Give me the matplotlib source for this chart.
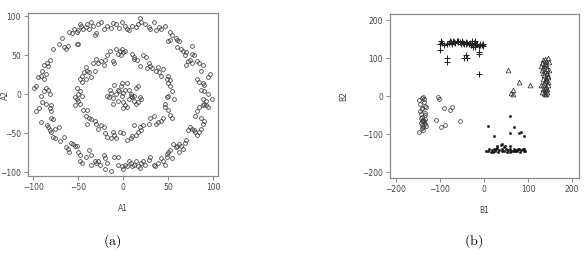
"""Two scatter panels: concentric rings (a) and four clusters (b)"""
import matplotlib
matplotlib.use("Agg")
import matplotlib.pyplot as plt

# ---- panel (a): rings ----
outer_x = [-2, -5, -8, -12, -14, -18, -22, -25, -28, -30, -32, -34, -36, -38, -40, -42, -45, -47, -48, -50,
           -52, -55, -57, -60, -62, -64, -66, -68, -72, -78, -82, -85, -84, -88, -90, -92, -86, -88, -95, -97,
           -99, -92, -88, -84, -86, -82, -90, -86, -94, -97, -80, -82, -80, -52, -50,
           -92, -85, -84, -80, -78, -82, -80, -76, -72, -78, -76, -70, -66, -64, -62, -60, -58, -56, -54, -52,
           -50, -48, -48, -46, -42, -38, -36, -36, -32, -30, -28, -26, -22, -20, -18, -20, -14, -10, -6, -6,
           -2, -1, 2, 4, 6,
           8, 10, 12, 14, 16, 18, 20, 22, 24, 28, 30, 34, 35, 38, 42, 44, 46, 48, 48, 50,
           52, 54, 55, 58, 60, 62, 64, 66, 62, 68, 70, 72, 74, 76, 78, 80, 82, 84, 86, 88,
           90, 86, 80, 82, 84, 88, 90, 92, 94, 98, 92, 88,
           94, 90, 86, 88, 90, 84, 82, 94, 96, 86, 88, 84, 82, 76, 74, 72, 70, 78, 76, 70,
           68, 66, 64, 60, 76, 62, 60, 58, 54, 52, 50, 52, 46, 42, 40, 36, 34, 30, 28, 24,
           20, 18, 16, 14, 10, 6, 4, 2]
outer_y = [92, 85, 90, 91, 85, 88, 84, 92, 90, 78, 76, 88, 92, 84, 90, 86, 84, 87, 90, 82,
           80, 83, 78, 80, 62, 58, 60, 72, 65, 58, 44, 40, 36, 38, 30, 24, 26, 20, 22, 10,
           8, -2, 4, 6, 8, 0, -10, -12, -18, -22, -14, -18, -22, 65, 64,
           -35, -40, -42, -30, -32, -46, -48, -44, -42, -55, -56, -60, -55, -68, -70, -74, -62, -64, -66, -66,
           -74, -78, -86, -88, -80, -72, -78, -90, -86, -88, -85, -90, -78, -82, -88, -96, -98, -80, -80, -90,
           -92, -96, -90, -92, -86,
           -88, -92, -90, -86, -92, -94, -88, -86, -90, -84, -80, -90, -92, -88, -82, -86, -90, -76, -80, -74,
           -72, -82, -64, -68, -66, -64, -66, -70, -74, -62, -58, -46, -42, -44, -46, -48, -52, -48, -44, -38,
           -34, -30, -28, -22, -16, -14, -12, -14, -16, -6, -8, -6,
           0, 4, 6, 14, 12, 16, 20, 22, 26, 30, 38, 40, 42, 40, 44, 42, 38, 50, 52, 54,
           50, 56, 58, 60, 62, 68, 70, 72, 76, 70, 68, 80, 88, 84, 86, 82, 92, 84, 86, 90,
           92, 98, 90, 86, 88, 82, 84, 88]

middle_x = [-30, -28, -25, -22, -20, -18, -15, -12, -10, -8, -6, -4, -2, 0, 2, -3, 10, 12, 12, 15,
            18, 22, 25, 28, 30, 26, 32, 36, 38, 40, 42, 44, 48, 50, 52, 50, 52, 54, 56, 50,
            48, 46, 46, 50, 52, 54, 44, 42, 38, 36, 34, 30, 28, 22, 20, 18, 16, 14, 12, 10,
            8, 4, 0, -4, -8, -10, -12, -14, -18, -20, -22, -25, -28, -30, -32, -36, -38, -40, -42, -40,
            -45, -48, -50, -52, -54, -54, -50, -48, -52, -46, -46, -48, -46, -44, -40, -42, -38, -36, -34, -32,
            -42]
middle_y = [45, 40, 42, 38, 44, 50, 55, 42, 40, 58, 52, 56, 58, 54, 55, 50, 52, 48, 45, 44,
            36, 50, 48, 40, 36, 34, 34, 30, 35, 28, 24, 32, 20, 24, 18, 14, 10, 4, -6, -2,
            -4, -12, -16, -20, -26, -30, -30, -34, -35, -38, -28, -30, -38, -40, -46, -42, -48, -52, -40, -54,
            -56, -58, -50, -48, -56, -52, -48, -56, -55, -50, -42, -40, -45, -38, -34, -32, -30, -38, -28, -20,
            -20, -12, -8, -6, -14, -4, 0, 4, 8, -2, 16, 20, 24, 28, 30, 35, 28, 22, 40, 30,
            20]

inner_x = [-18, -16, -15, -12, -10, -8, -6, -5, -3, -2, 0, -1, 2, 4, 2, 4, 6, 8, 10, 12,
           14, 16, 18, 20, 16, 14, 6, -2, -12, -14, 0, 8, 12, -6]
inner_y = [-2, -4, 6, -5, 12, 0, -8, 4, 10, -2, 2, -10, -14, -16, 6, 14, 6, 0, -4, -2,
           8, 10, -4, -6, -10, -12, -6, 14, -12, 2, -18, -2, -8, 6]

# ---- panel (b): four groups ----
plus_x = [-100, -98, -95, -90, -85, -80, -78, -75, -72, -70, -68, -65, -62, -60, -58, -55, -52, -50, -48, -45,
          -42, -40, -38, -35, -32, -30, -28, -25, -22, -20, -18, -15, -12, -10, -8, -5, -3, -2,
          -100, -85, -85, -42, -45, -38, -12, -12, -12, -20, -28]
plus_y = [138, 145, 140, 135, 137, 140, 144, 142, 138, 145, 143, 140, 146, 142, 144, 141, 138, 145, 140, 136,
          142, 138, 140, 137, 139, 134, 136, 130, 140, 145, 138, 136, 132, 134, 137, 135, 138, 133,
          120, 100, 90, 108, 100, 100, 110, 116, 58, 128, 146]

tri_x = [130, 132, 135, 138, 140, 142, 145, 148, 131, 134, 137, 141, 144, 147, 133, 136, 139, 143, 146, 135,
         138, 140, 142, 145, 130, 134, 137, 140, 143, 146, 132, 136, 140, 144, 138, 141, 135, 139, 143, 146,
         55, 80, 105, 65, 62, 66]
tri_y = [80, 88, 95, 98, 92, 85, 100, 90, 70, 75, 82, 78, 72, 68, 60, 55, 65, 58, 50, 45,
         40, 48, 42, 38, 30, 28, 35, 25, 20, 30, 12, 8, 15, 10, 5, 6, 18, 22, 62, 52,
         68, 38, 30, 15, 8, 6]

circ_x = [-148, -145, -142, -140, -138, -136, -134, -132, -146, -143, -141, -139, -137, -135, -133, -144, -140, -138, -136, -142,
          -139, -134, -131, -147, -141, -137, -135, -143, -138, -140,
          -105, -103, -92, -78, -72, -110, -97, -88, -55]
circ_y = [-10, -20, -5, -30, -2, -8, -25, -28, -40, -48, -55, -62, -68, -45, -60, -70, -75, -80, -65, -85,
          -90, -72, -78, -93, -35, -15, -50, -58, -62, -66,
          -2, -8, -32, -37, -28, -62, -82, -76, -65]

dot_x = [5, 8, 12, 15, 18, 20, 22, 25, 28, 30, 32, 35, 38, 40, 42, 45, 48, 50, 52, 55,
         58, 60, 62, 65, 68, 70, 72, 75, 78, 80, 82, 85, 88, 90, 92, 94, 30, 40, 45, 60,
         10, 22, 60, 68, 58, 85, 92, 80]
dot_y = [-143, -145, -140, -146, -142, -148, -138, -144, -140, -130, -147, -142, -128, -145, -138, -143, -132, -140, -146, -141,
         -138, -148, -143, -145, -140, -144, -141, -143, -139, -140, -146, -142, -138, -145, -140, -144, -136, -126, -134, -130,
         -78, -106, -52, -82, -98, -95, -105, -98]

TXT = "#444444"
FRAME = "#8a8a8a"

plt.rcParams["mathtext.fontset"] = "cm"
fig = plt.figure(figsize=(5.88, 2.56), dpi=100)


def style(ax, xt, yt):
    for s in ax.spines.values():
        s.set_color(FRAME)
        s.set_linewidth(0.9)
    ax.set_xticks(xt)
    ax.set_yticks(yt)
    ax.tick_params(length=3, width=0.7, color=FRAME, labelsize=5.5, labelcolor=TXT, pad=2)


# panel (a)
ax1 = fig.add_axes([0.0476, 0.3125, 0.323, 0.637])
mk = dict(ls="none", marker="o", ms=2.7, mfc="none", mec="#3a3a3a", mew=0.55)
ax1.plot(outer_x, outer_y, **mk)
ax1.plot(middle_x, middle_y, **mk)
ax1.plot(inner_x, inner_y, **mk)
ax1.set_xlim(-106, 105)
ax1.set_ylim(-104.7, 104.2)
style(ax1, [-100, -50, 0, 50, 100], [-100, -50, 0, 50, 100])
ax1.set_xlabel("A1", fontsize=5.5, color=TXT, labelpad=9)
# the reference shows this label squeezed against the left edge
fig.text(0.001, 0.63, "A2", rotation=90, ha="left", va="center", fontsize=5.5, color=TXT)
fig.text(0.19, 0.06, r"$\mathrm{(a)}$", ha="center", va="center", fontsize=10)

# panel (b)
ax2 = fig.add_axes([0.663, 0.305, 0.321, 0.64])
ax2.plot(plus_x, plus_y, ls="none", marker="+", ms=4.8, mec="#222222", mew=0.75)
ax2.plot(tri_x, tri_y, ls="none", marker="^", ms=3.4, mfc="none", mec="#333333", mew=0.55)
ax2.plot(circ_x, circ_y, ls="none", marker="o", ms=2.7, mfc="none", mec="#3a3a3a", mew=0.55)
ax2.plot(dot_x, dot_y, ls="none", marker="o", ms=1.7, mfc="#111111", mec="#111111", mew=0.3)
ax2.set_xlim(-214, 215)
ax2.set_ylim(-215, 215.7)
style(ax2, [-200, -100, 0, 100, 200], [-200, -100, 0, 100, 200])
ax2.set_xlabel("B1", fontsize=5.5, color=TXT, labelpad=9)
ax2.set_ylabel("B2", fontsize=5.5, color=TXT, labelpad=10)
fig.text(0.806, 0.06, r"$\mathrm{(b)}$", ha="center", va="center", fontsize=10)

fig.savefig("out.png", dpi=100)
